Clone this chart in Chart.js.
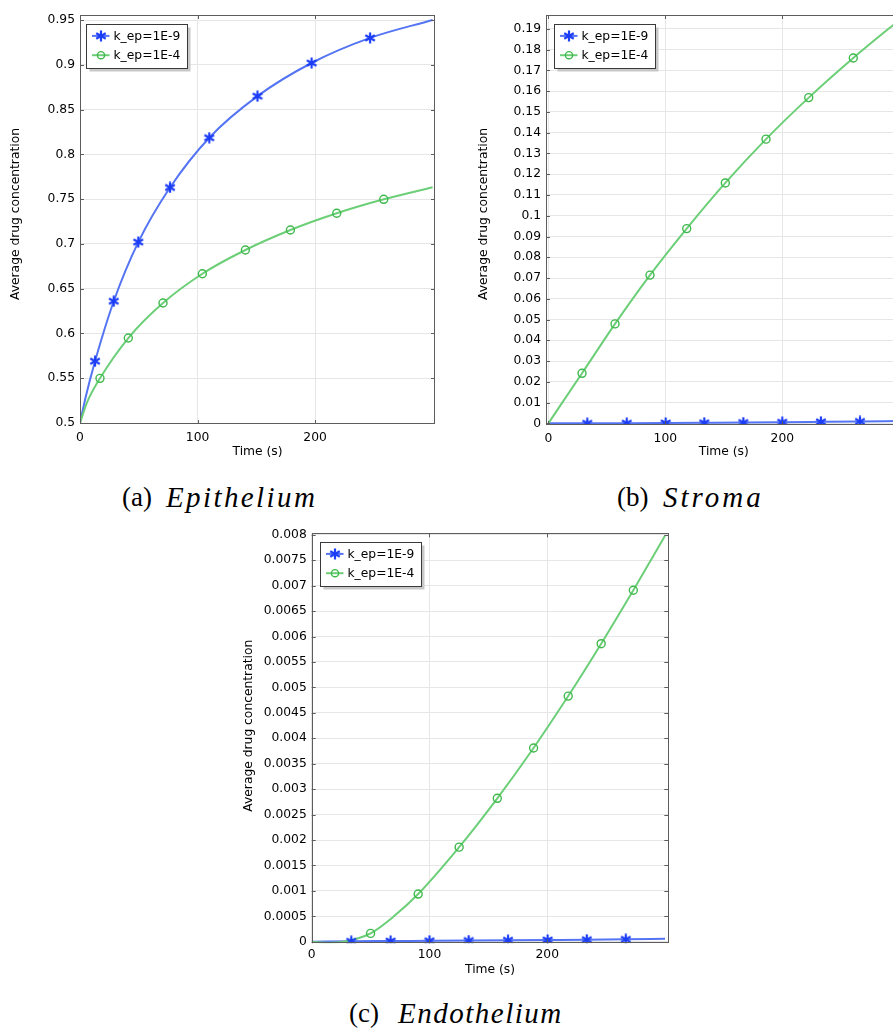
<!DOCTYPE html>
<html>
<head>
<meta charset="utf-8">
<script src="https://cdn.jsdelivr.net/npm/chart.js@4.4.1/dist/chart.umd.min.js"></script>
<style>
    html, body { margin: 0; padding: 0; background: #fff; overflow: hidden; width: 893px; height: 1028px; }
    canvas { position: absolute; }
    .cap { position: absolute; font-family: 'Liberation Serif', serif; font-size: 27px; line-height: 27px; color: #000; white-space: nowrap; }
    .cap.word { font-style: italic; font-size: 29px; line-height: 29px; }
</style>
</head>
<body>
<canvas id="epiChart"    width="445" height="470" style="left:0;top:0"></canvas>
<canvas id="stromaChart" width="446" height="470" style="left:466px;top:0"></canvas>
<canvas id="endoChart"   width="448" height="470" style="left:230px;top:520px"></canvas>

<div class="cap" style="left:122px;top:484px">(a)</div>
<div class="cap word" style="left:166px;top:482.7px;letter-spacing:2.4px">Epithelium</div>
<div class="cap" style="left:617px;top:484px">(b)</div>
<div class="cap word" style="left:663px;top:482.7px;letter-spacing:3px">Stroma</div>
<div class="cap" style="left:349px;top:1000px">(c)</div>
<div class="cap word" style="left:398px;top:998.7px;letter-spacing:1.5px">Endothelium</div>

<script>
/* ── DATA ─────────────────────────────────────────────── */
const seriesLabels = ['k_ep=1E-9', 'k_ep=1E-4'];
const timeTicks    = [0, 100, 200];

// (a) epithelium
const epiTicks      = [0.5, 0.55, 0.6, 0.65, 0.7, 0.75, 0.8, 0.85, 0.9, 0.95];
const epiSlowT      = [0, 5, 12.8, 28.7, 49.6, 76.6, 110, 151, 197, 246.8, 300];
const epiSlowC      = [0.5, 0.530, 0.569, 0.636, 0.702, 0.763, 0.8186, 0.865, 0.902, 0.930, 0.950];
const epiSlowMarkT  = [12.8, 28.7, 49.6, 76.6, 110, 151, 197, 246.8];
const epiSlowMarkC  = [0.569, 0.636, 0.702, 0.763, 0.8186, 0.865, 0.902, 0.930];
const epiFastT      = [0, 6, 17, 41.1, 70.6, 104.1, 140.7, 179, 218.4, 258.4, 300];
const epiFastC      = [0.5, 0.523, 0.5499, 0.5949, 0.634, 0.6667, 0.6932, 0.7155, 0.7342, 0.7498, 0.7633];
const epiFastMarkT  = [17, 41.1, 70.6, 104.1, 140.7, 179, 218.4, 258.4];
const epiFastMarkC  = [0.5499, 0.5949, 0.634, 0.6667, 0.6932, 0.7155, 0.7342, 0.7498];

// (b) stroma
const stromaTicks     = [0, 0.01, 0.02, 0.03, 0.04, 0.05, 0.06, 0.07, 0.08, 0.09, 0.1,
                         0.11, 0.12, 0.13, 0.14, 0.15, 0.16, 0.17, 0.18, 0.19];
const stromaSlowT     = [0, 33.3, 67, 100.3, 133.3, 166.7, 200, 233, 266.4, 300];
const stromaSlowC     = [0, 0.00002, 0.00008, 0.00017, 0.00028, 0.0004, 0.00055, 0.00072, 0.0009, 0.0011];
const stromaSlowMarkT = [33.3, 67, 100.3, 133.3, 166.7, 200, 233, 266.4];
const stromaSlowMarkC = [0.00002, 0.00008, 0.00017, 0.00028, 0.0004, 0.00055, 0.00072, 0.0009];
const stromaFastT     = [0, 28.8, 57, 86.9, 118.3, 151.3, 186.1, 222.6, 260.7, 294.9, 300];
const stromaFastC     = [0, 0.0241, 0.0479, 0.0714, 0.0938, 0.1158, 0.1369, 0.1569, 0.1760, 0.1919, 0.1942];
const stromaFastMarkT = [28.8, 57, 86.9, 118.3, 151.3, 186.1, 222.6, 260.7];
const stromaFastMarkC = [0.0241, 0.0479, 0.0714, 0.0938, 0.1158, 0.1369, 0.1569, 0.1760];

// (c) endothelium
const endoTicks     = [0, 0.0005, 0.001, 0.0015, 0.002, 0.0025, 0.003, 0.0035, 0.004,
                       0.0045, 0.005, 0.0055, 0.006, 0.0065, 0.007, 0.0075, 0.008];
const endoSlowT     = [0, 33.6, 67, 100, 133.3, 166.7, 200.3, 233.6, 266.7, 300];
const endoSlowC     = [0, 0.00001, 0.000015, 0.00002, 0.000025, 0.00003, 0.000035, 0.00004, 0.000048, 0.00006];
const endoSlowMarkT = [33.6, 67, 100, 133.3, 166.7, 200.3, 233.6, 266.7];
const endoSlowMarkC = [0.00001, 0.000015, 0.00002, 0.000025, 0.00003, 0.000035, 0.00004, 0.000048];
const endoFastT     = [0, 16, 33, 50, 70, 90.4, 125.2, 157.6, 188.4, 217.8, 245.8, 273.1, 300];
const endoFastC     = [0, -0.00002, 0.00003, 0.000165, 0.000505, 0.000938, 0.00186, 0.00282, 0.00381, 0.00483, 0.00586, 0.00691, 0.00798];
const endoFastMarkT = [50, 90.4, 125.2, 157.6, 188.4, 217.8, 245.8, 273.1];
const endoFastMarkC = [0.000165, 0.000938, 0.00186, 0.00282, 0.00381, 0.00483, 0.00586, 0.00691];

/* ── THEME ────────────────────────────────────────────── */
const C = {
    blueLine:  '#5474f3',
    blueMark:  '#1c3df6',
    greenLine: '#6ccf78',
    greenMark: '#3fb84c',
    grid:      '#e6e6e6',
    frame:     '#5c5c5c',
    font:      "'DejaVu Sans', sans-serif",
};
const tickFont = { family: C.font, size: 12.3 };

/* ── HELPERS ──────────────────────────────────────────── */
function pts(ts, vs) { return ts.map((t, i) => ({ x: t, y: vs[i] })); }

function asterisk(color) {
    const c = document.createElement('canvas');
    c.width = 12; c.height = 12;
    const g = c.getContext('2d');
    g.strokeStyle = color;
    g.lineWidth = 2.2;
    g.beginPath();
    [90, 30, 150].forEach(deg => {
        const a = deg * Math.PI / 180, r = 5.5;
        g.moveTo(6 + r * Math.cos(a), 6 - r * Math.sin(a));
        g.lineTo(6 - r * Math.cos(a), 6 + r * Math.sin(a));
    });
    g.stroke();
    return c;
}
const starImg = asterisk(C.blueMark);

function fmt(v) { return String(+Number(v).toFixed(6)); }

/* frame, inward ticks, y title and legend box */
const decor = {
    id: 'decor',
    afterDraw(chart, args, o) {
        const { ctx, chartArea: a, scales: { x, y } } = chart;
        ctx.save();
        ctx.strokeStyle = C.frame;
        ctx.lineWidth = 1;
        ctx.beginPath();
        y.ticks.forEach(t => {
            const py = Math.round(y.getPixelForValue(t.value)) + 0.5;
            ctx.moveTo(a.left, py);  ctx.lineTo(a.left + 4, py);
            ctx.moveTo(a.right, py); ctx.lineTo(a.right - 4, py);
        });
        x.ticks.forEach(t => {
            const px = Math.round(x.getPixelForValue(t.value)) + 0.5;
            ctx.moveTo(px, a.top);    ctx.lineTo(px, a.top + 4);
            ctx.moveTo(px, a.bottom); ctx.lineTo(px, a.bottom - 4);
        });
        ctx.stroke();
        ctx.strokeRect(Math.round(a.left) + 0.5, Math.round(a.top) + 0.5,
                       Math.round(a.width) - 1, Math.round(a.height) - 1);

        // y title
        ctx.fillStyle = '#000';
        ctx.font = `12.3px ${C.font}`;
        ctx.save();
        ctx.translate(o.titleX, o.titleY);
        ctx.rotate(-Math.PI / 2);
        ctx.textAlign = 'center';
        ctx.textBaseline = 'middle';
        ctx.fillText('Average drug concentration', 0, 0);
        ctx.restore();

        // legend
        const bx = Math.round(a.left + o.legX) + 0.5, by = Math.round(a.top + o.legY) + 0.5;
        const bw = 101, bh = 44;
        ctx.fillStyle = '#c8c8c8';
        ctx.fillRect(bx + 3, by + 3, bw, bh);
        ctx.fillStyle = '#fff';
        ctx.fillRect(bx, by, bw, bh);
        ctx.strokeStyle = '#3a3a3a';
        ctx.strokeRect(bx, by, bw, bh);

        const rows = [
            { y: by + 11.4, line: C.blueLine,  label: seriesLabels[0], star: true },
            { y: by + 30.7, line: C.greenLine, label: seriesLabels[1], star: false },
        ];
        rows.forEach(r => {
            ctx.strokeStyle = r.line;
            ctx.lineWidth = 2;
            ctx.beginPath();
            ctx.moveTo(bx + 5.5, r.y); ctx.lineTo(bx + 23, r.y);
            ctx.stroke();
            if (r.star) {
                ctx.drawImage(starImg, bx + 14.5 - 6, r.y - 6);
            } else {
                ctx.strokeStyle = C.greenMark;
                ctx.lineWidth = 1.4;
                ctx.beginPath();
                ctx.arc(bx + 14.5, r.y, 3.6, 0, Math.PI * 2);
                ctx.stroke();
            }
            ctx.fillStyle = '#000';
            ctx.textAlign = 'left';
            ctx.textBaseline = 'middle';
            ctx.fillText(r.label, bx + 27, r.y + 0.5);
        });
        ctx.restore();
    }
};

/* ══════════════════════════════════════════════════════
   chart builder
══════════════════════════════════════════════════════ */
function makeChart(id, d) {
    return new Chart(document.getElementById(id), {
        type: 'scatter',
        data: {
            datasets: [
                {
                    data: pts(d.slowT, d.slowC), showLine: true,
                    borderColor: C.blueLine, borderWidth: 2, pointRadius: 0,
                    cubicInterpolationMode: 'monotone', order: 4,
                },
                {
                    data: pts(d.fastT, d.fastC), showLine: true,
                    borderColor: C.greenLine, borderWidth: 2, pointRadius: 0,
                    cubicInterpolationMode: 'monotone', order: 3,
                },
                {
                    data: pts(d.slowMarkT, d.slowMarkC),
                    pointStyle: starImg, pointRadius: 5, order: 2,
                },
                {
                    data: pts(d.fastMarkT, d.fastMarkC),
                    pointStyle: 'circle', pointRadius: 4, pointBorderWidth: 1.4,
                    borderColor: C.greenMark, backgroundColor: 'rgba(0,0,0,0)', order: 1,
                },
            ]
        },
        options: {
            responsive: false,
            animation: false,
            events: [],
            layout: { padding: { left: 0, top: d.padTop, right: d.padRight, bottom: 0 } },
            plugins: {
                legend: { display: false },
                tooltip: { enabled: false },
                decor: { titleX: d.titleX, titleY: d.titleY, legX: d.legX, legY: d.legY },
            },
            scales: {
                x: {
                    type: 'linear', min: d.xMin, max: d.xMax,
                    afterBuildTicks: s => { s.ticks = timeTicks.map(v => ({ value: v })); },
                    afterFit: s => { s.height = d.xAxisH; },
                    grid: { color: C.grid, drawTicks: false },
                    border: { display: false },
                    ticks: { color: '#000', font: tickFont, padding: d.xTickPad, maxRotation: 0, autoSkip: false },
                    title: {
                        display: true, text: 'Time (s)', color: '#000', font: tickFont,
                        padding: { top: 0, bottom: d.xTitlePad }
                    }
                },
                y: {
                    type: 'linear', min: d.yMin, max: d.yMax,
                    afterBuildTicks: s => { s.ticks = d.yTicks.map(v => ({ value: v })); },
                    afterFit: s => { s.width = d.yAxisW; },
                    grid: { color: C.grid, drawTicks: false },
                    border: { display: false },
                    ticks: { color: '#000', font: tickFont, padding: 5, autoSkip: false, callback: v => fmt(v) },
                }
            }
        },
        plugins: [decor]
    });
}

/* 1. EPITHELIUM */
makeChart('epiChart', {
    slowT: epiSlowT, slowC: epiSlowC, slowMarkT: epiSlowMarkT, slowMarkC: epiSlowMarkC,
    fastT: epiFastT, fastC: epiFastC, fastMarkT: epiFastMarkT, fastMarkC: epiFastMarkC,
    yTicks: epiTicks, yMin: 0.4989, yMax: 0.9556, xMin: 0, xMax: 302,
    padTop: 15, padRight: 10, yAxisW: 80, xAxisH: 46, xTickPad: 6.5, xTitlePad: 10.6,
    titleX: 16, titleY: 214, legX: 6, legY: 9,
});

/* 2. STROMA */
makeChart('stromaChart', {
    slowT: stromaSlowT, slowC: stromaSlowC, slowMarkT: stromaSlowMarkT, slowMarkC: stromaSlowMarkC,
    fastT: stromaFastT, fastC: stromaFastC, fastMarkT: stromaFastMarkT, fastMarkC: stromaFastMarkC,
    yTicks: stromaTicks, yMin: -0.0008, yMax: 0.1967, xMin: -2, xMax: 302,
    padTop: 15, padRight: 10.4, yAxisW: 80, xAxisH: 45, xTickPad: 6, xTitlePad: 10.6,
    titleX: 18, titleY: 214, legX: 8, legY: 9,
});

/* 3. ENDOTHELIUM */
makeChart('endoChart', {
    slowT: endoSlowT, slowC: endoSlowC, slowMarkT: endoSlowMarkT, slowMarkC: endoSlowMarkC,
    fastT: endoFastT, fastC: endoFastC, fastMarkT: endoFastMarkT, fastMarkC: endoFastMarkC,
    yTicks: endoTicks, yMin: -0.00003, yMax: 0.00803, xMin: 0, xMax: 302.8,
    padTop: 13.3, padRight: 9.7, yAxisW: 81.7, xAxisH: 46.7, xTickPad: 4.5, xTitlePad: 13.3,
    titleX: 19, titleY: 205.7, legX: 8, legY: 8.4,
});
</script>
</body>
</html>
